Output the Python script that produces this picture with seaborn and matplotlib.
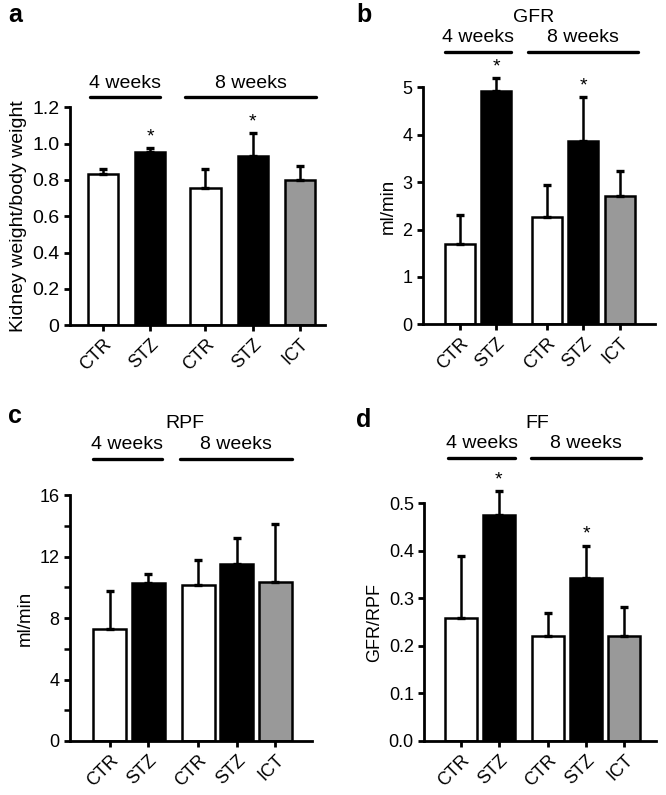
import matplotlib
matplotlib.use("Agg")
import matplotlib.pyplot as plt
import pandas as pd
import seaborn as sns

# bar labels / conditions
conds = ["CTR", "STZ", "CTR", "STZ", "ICT"]

# a: kidney weight / body weight
kw_mean = [0.834, 0.956, 0.757, 0.933, 0.802]
kw_err = [0.027, 0.019, 0.104, 0.124, 0.077]
# b: GFR (ml/min)
gfr_mean = [1.69, 4.92, 2.27, 3.87, 2.70]
gfr_err = [0.61, 0.27, 0.67, 0.92, 0.54]
# c: RPF (ml/min)
rpf_mean = [7.32, 10.31, 10.14, 11.55, 10.36]
rpf_err = [2.43, 0.59, 1.67, 1.69, 3.80]
# d: FF (GFR/RPF)
ff_mean = [0.258, 0.475, 0.221, 0.342, 0.221]
ff_err = [0.130, 0.050, 0.049, 0.069, 0.060]

signif = [False, True, False, True, False]

sns.set_style("ticks")
plt.rcParams['font.family'] = ['Liberation Sans', 'DejaVu Sans']
plt.rcParams['text.color'] = 'black'
plt.rcParams['xtick.color'] = 'black'
plt.rcParams['ytick.color'] = 'black'
plt.rcParams['axes.labelcolor'] = 'black'
plt.rcParams['axes.edgecolor'] = 'black'

pal = {"CTR": "white", "STZ": "black", "ICT": "#999999"}

fig = plt.figure(figsize=(6.66, 7.95), dpi=100)


def panel(rect, mean, err, gap, width, xlim, ylim, yticks, yticklabels, ylabel,
          title, lines, line_y, stars, letter, letter_xy, minor=None,
          ylab_size=13.5, ytick_size=13):
    ax = fig.add_axes(rect)
    pos = [0, 1, gap, gap + 1, gap + 2]
    df = pd.DataFrame({"pos": pos, "val": mean, "cond": conds})
    sns.barplot(data=df, x="pos", y="val", hue="cond", palette=pal, dodge=False,
                native_scale=True, width=width, errorbar=None, legend=False,
                edgecolor="black", linewidth=1.8, ax=ax)
    ax.errorbar(pos, mean, yerr=[[0] * 5, err], fmt="none", ecolor="black",
                elinewidth=1.8, capsize=3, capthick=2.4, zorder=1, clip_on=False)
    ax.set_xlim(*xlim)
    ax.set_ylim(*ylim)
    ax.set_xticks(pos)
    ax.set_xticklabels(conds, rotation=45, ha="right", rotation_mode="anchor",
                       fontsize=13)
    ax.set_yticks(yticks)
    ax.set_yticklabels(yticklabels, fontsize=ytick_size)
    if minor is not None:
        ax.set_yticks(minor, minor=True)
        ax.tick_params(axis="y", which="minor", length=4, width=1.8)
    ax.set_xlabel("")
    ax.set_ylabel(ylabel, fontsize=ylab_size)
    for s in ["left", "bottom"]:
        ax.spines[s].set_linewidth(2.0)
    sns.despine(ax=ax)
    ax.tick_params(axis="both", length=4.5, width=2.0, pad=3)
    tr = ax.get_xaxis_transform()
    span = ylim[1] - ylim[0]
    if stars:
        for p, m, e, s in zip(pos, mean, err, signif):
            if s:
                ax.text(p, m + e + span * 0.012, "*", ha="center", va="bottom",
                        fontsize=14)
    for (x0, x1), lab in zip(lines, ["4 weeks", "8 weeks"]):
        ax.plot([x0, x1], [line_y, line_y], color="black", lw=2.4,
                transform=tr, clip_on=False)
        ax.text((x0 + x1) / 2, line_y + 0.025, lab, ha="center", va="bottom",
                fontsize=14, transform=tr)
    if title:
        ax.text((lines[0][0] + lines[1][1]) / 2 - 0.2, line_y + 0.11, title,
                ha="center", va="bottom", fontsize=14, transform=tr)
    fig.text(letter_xy[0], letter_xy[1], letter, fontsize=18, fontweight="bold",
             ha="left", va="center")
    return ax


panel([0.105, 0.591, 0.383, 0.274], kw_mean, kw_err, 2.17, 0.64,
      (-0.70, 4.70), (0, 1.2), [0, 0.2, 0.4, 0.6, 0.8, 1.0, 1.2],
      ["0", "0.2", "0.4", "0.6", "0.8", "1.0", "1.2"],
      "Kidney weight/body weight", None,
      [(-0.28, 1.21), (1.74, 4.51)], 1.046, True, "a", (0.012, 0.981),
      ylab_size=14, ytick_size=14)

panel([0.635, 0.592, 0.348, 0.298], gfr_mean, gfr_err, 2.38, 0.82,
      (-1.01, 5.34), (0, 5), [0, 1, 2, 3, 4, 5],
      ["0", "1", "2", "3", "4", "5"], "ml/min", "GFR",
      [(-0.41, 1.40), (1.86, 4.88)], 1.148, True, "b", (0.535, 0.981))

panel([0.105, 0.068, 0.363, 0.309], rpf_mean, rpf_err, 2.30, 0.86,
      (-1.04, 5.25), (0, 16), [0, 4, 8, 12, 16],
      ["0", "4", "8", "12", "16"], "ml/min", "RPF",
      [(-0.44, 1.35), (1.82, 4.75)], 1.146, False, "c", (0.012, 0.477),
      minor=[2, 6, 10, 14])

panel([0.637, 0.068, 0.348, 0.299], ff_mean, ff_err, 2.30, 0.84,
      (-0.96, 5.14), (0, 0.5), [0, 0.1, 0.2, 0.3, 0.4, 0.5],
      ["0.0", "0.1", "0.2", "0.3", "0.4", "0.5"], "GFR/RPF", "FF",
      [(-0.33, 1.43), (1.86, 4.75)], 1.189, True, "d", (0.535, 0.472),
      ylab_size=13)

fig.savefig("out.png", dpi=100)
